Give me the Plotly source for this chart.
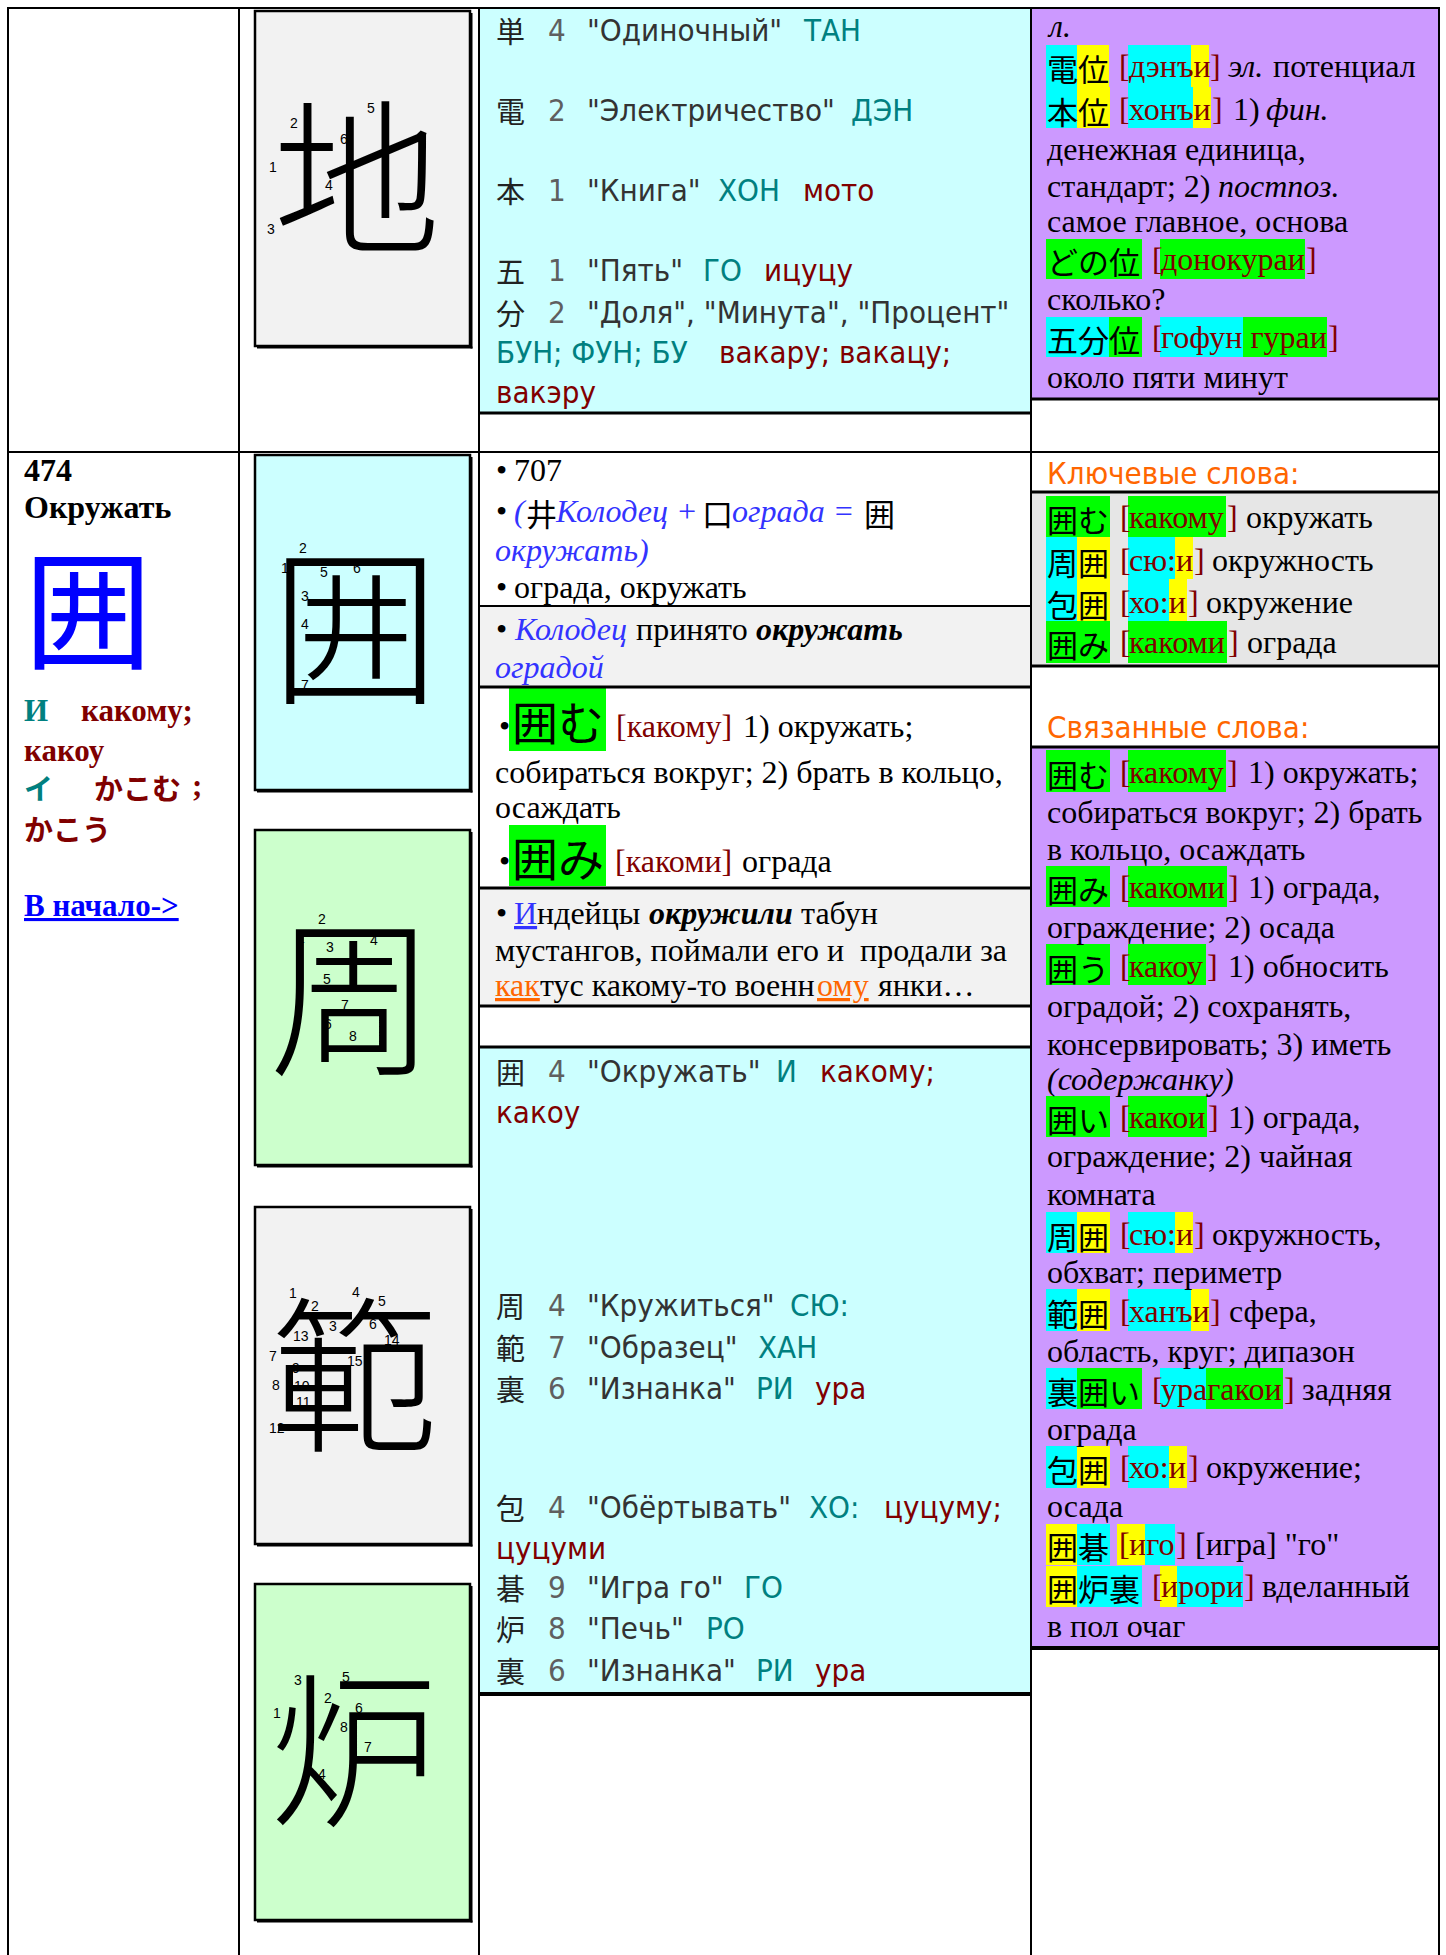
import plotly.graph_objects as go

W, H = 1446, 1955

# ======================= DATA (text content) =======================
ENTRY_NUMBER = "474"
ENTRY_MEANING = "Окружать"
ENTRY_KANJI = "囲"
ENTRY_READINGS = [
    [("on_b", "И"), ("kun_b", "какому;")],
    [("kun_b", "какоу")],
    [("jon_b", "イ"), ("jkun_b", "かこむ"), ("kun_b", ";")],
    [("jkun_b", "かこう")],
]
LINK_TEXT = "В начало->"

DIAGRAM_KANJI = ["地", "囲", "周", "範", "炉"]
DIAGRAM_STROKES = [6, 7, 8, 15, 8]

TOP_COMPONENTS = [
    [("k", "単"), ("num", "4"), ("q", '"Одиночный"'), ("on", "ТАН")],
    [("k", "電"), ("num", "2"), ("q", '"Электричество"'), ("on", "ДЭН")],
    [("k", "本"), ("num", "1"), ("q", '"Книга"'), ("on", "ХОН"), ("kun", "мото")],
    [("k", "五"), ("num", "1"), ("q", '"Пять"'), ("on", "ГО"), ("kun", "ицуцу")],
    [("k", "分"), ("num", "2"), ("q", '"Доля", "Минута", "Процент"')],
    [("on", "БУН; ФУН; БУ"), ("kun", "вакару; вакацу;")],
    [("kun", "вакэру")],
]

LOW_COMPONENTS = [
    [("k", "囲"), ("num", "4"), ("q", '"Окружать"'), ("on", "И"), ("kun", "какому;")],
    [("kun", "какоу")],
    [("k", "周"), ("num", "4"), ("q", '"Кружиться"'), ("on", "СЮ:")],
    [("k", "範"), ("num", "7"), ("q", '"Образец"'), ("on", "ХАН")],
    [("k", "裏"), ("num", "6"), ("q", '"Изнанка"'), ("on", "РИ"), ("kun", "ура")],
    [("k", "包"), ("num", "4"), ("q", '"Обёртывать"'), ("on", "ХО:"), ("kun", "цуцуму;")],
    [("kun", "цуцуми")],
    [("k", "碁"), ("num", "9"), ("q", '"Игра го"'), ("on", "ГО")],
    [("k", "炉"), ("num", "8"), ("q", '"Печь"'), ("on", "РО")],
    [("k", "裏"), ("num", "6"), ("q", '"Изнанка"'), ("on", "РИ"), ("kun", "ура")],
]

SEC_A = [
    [("s", "•"), ("s", "707")],
    [("s", "•"), ("blue_i", "("), ("jk", "井"), ("blue_i", "Колодец +"), ("jk", "口"),
     ("blue_i", "ограда ="), ("jk", "囲")],
    [("blue_i", "окружать)")],
    [("s", "•"), ("s", "ограда, окружать")],
]
SEC_B = [
    [("s", "•"), ("blue_i", "Колодец"), ("s", "принято"), ("sbi", "окружать")],
    [("blue_i", "оградой")],
]
SEC_C = [
    [("s", "•"), ("red", "[какому]"), ("s", "1) окружать;")],
    [("s", "собираться вокруг; 2) брать в кольцо,")],
    [("s", "осаждать")],
    [("s", "•"), ("red", "[какоми]"), ("s", "ограда")],
]
SEC_C_WORDS = ["囲む", "囲み"]
SEC_D = [
    [("s", "•"), ("blue_u", "И"), ("s", "ндейцы"), ("sbi", "окружили"), ("s", "табун")],
    [("s", "мустангов, поймали его и  продали за")],
    [("orange_u", "как"), ("s", "тус какому-то военн"), ("orange_u", "ому"), ("s", "янки…")],
]

TOP_WORDS = [
    [("si", "л.")],
    [("jk", "電位"), ("red", "["), ("red", "дэнъи"), ("red", "]"), ("si", "эл."), ("s", "потенциал")],
    [("jk", "本位"), ("red", "["), ("red", "хонъи"), ("red", "]"), ("s", "1)"), ("si", "фин.")],
    [("s", "денежная единица,")],
    [("s", "стандарт; 2)"), ("si", "постпоз.")],
    [("s", "самое главное, основа")],
    [("jk", "どの位"), ("red", "["), ("red", "донокураи"), ("red", "]")],
    [("s", "сколько?")],
    [("jk", "五分位"), ("red", "["), ("red", "гофун гураи"), ("red", "]")],
    [("s", "около пяти минут")],
]

HEAD_KEY = "Ключевые слова:"
HEAD_REL = "Связанные слова:"

KEY_WORDS = [
    [("jk", "囲む"), ("red", "["), ("red", "какому"), ("red", "]"), ("s", "окружать")],
    [("jk", "周囲"), ("red", "["), ("red", "сю:и"), ("red", "]"), ("s", "окружность")],
    [("jk", "包囲"), ("red", "["), ("red", "хо:и"), ("red", "]"), ("s", "окружение")],
    [("jk", "囲み"), ("red", "["), ("red", "какоми"), ("red", "]"), ("s", "ограда")],
]

REL_WORDS = [
    [("jk", "囲む"), ("red", "["), ("red", "какому"), ("red", "]"), ("s", "1) окружать;")],
    [("s", "собираться вокруг; 2) брать")],
    [("s", "в кольцо, осаждать")],
    [("jk", "囲み"), ("red", "["), ("red", "какоми"), ("red", "]"), ("s", "1) ограда,")],
    [("s", "ограждение; 2) осада")],
    [("jk", "囲う"), ("red", "["), ("red", "какоу"), ("red", "]"), ("s", "1) обносить")],
    [("s", "оградой; 2) сохранять,")],
    [("s", "консервировать; 3) иметь")],
    [("si", "(содержанку)")],
    [("jk", "囲い"), ("red", "["), ("red", "какои"), ("red", "]"), ("s", "1) ограда,")],
    [("s", "ограждение; 2) чайная")],
    [("s", "комната")],
    [("jk", "周囲"), ("red", "["), ("red", "сю:и"), ("red", "]"), ("s", "окружность,")],
    [("s", "обхват; периметр")],
    [("jk", "範囲"), ("red", "["), ("red", "ханъи"), ("red", "]"), ("s", "сфера,")],
    [("s", "область, круг; дипазон")],
    [("jk", "裏囲い"), ("red", "["), ("red", "урагакои"), ("red", "]"), ("s", "задняя")],
    [("s", "ограда")],
    [("jk", "包囲"), ("red", "["), ("red", "хо:и"), ("red", "]"), ("s", "окружение;")],
    [("s", "осада")],
    [("jk", "囲碁"), ("red", "["), ("red", "иго"), ("red", "]"), ("s", '[игра] "го"')],
    [("jk", "囲炉裏"), ("red", "["), ("red", "ирори"), ("red", "]"), ("s", "вделанный")],
    [("s", "в пол очаг")],
]

# ======================= LAYOUT (positions, sizes, styles) =======================
SERIF = "Liberation Serif, Times New Roman, serif"
SANS = "DejaVu Sans Condensed, Tahoma, DejaVu Sans, sans-serif"
CJK = "Noto Sans CJK JP, Noto Sans CJK SC, sans-serif"
ARIAL = "Liberation Sans, Arial, sans-serif"
SS, TS, JS = 32, 31, 31

ROLES = {
    "k": dict(family=CJK, size=29, color="#222222"),
    "num": dict(family=SANS, size=TS, color="#5f5f5f"),
    "q": dict(family=SANS, size=TS, color="#333333"),
    "on": dict(family=SANS, size=TS, color="#008080"),
    "kun": dict(family=SANS, size=TS, color="#800000"),
    "head": dict(family=SANS, size=TS, color="#ff6600"),
    "s": dict(family=SERIF, size=SS, color="#000000"),
    "si": dict(family=SERIF, size=SS, color="#000000", style="italic"),
    "sb": dict(family=SERIF, size=SS, color="#000000", weight="bold"),
    "sbi": dict(family=SERIF, size=SS, color="#000000", weight="bold", style="italic"),
    "blue_i": dict(family=SERIF, size=SS, color="#3333ff", style="italic"),
    "blue_u": dict(family=SERIF, size=SS, color="#3333ff", lineposition="under"),
    "orange_u": dict(family=SERIF, size=SS, color="#ff6600", lineposition="under"),
    "red": dict(family=SERIF, size=SS, color="#800000"),
    "on_b": dict(family=SERIF, size=31, color="#008080", weight="bold"),
    "kun_b": dict(family=SERIF, size=31, color="#800000", weight="bold"),
    "jon_b": dict(family=CJK, size=29, color="#008080", weight="bold"),
    "jkun_b": dict(family=CJK, size=29, color="#800000", weight="bold"),
    "link": dict(family=SERIF, size=31, color="#0000ff", weight="bold", lineposition="under"),
    "jk": dict(family=CJK, size=JS, color="#000000"),
    "jkbig": dict(family=CJK, size=46, color="#000000"),
    "bigblue": dict(family=CJK, size=128, color="#0000ff"),
    "diag": dict(family=CJK, size=168, color="#000000", weight=300),
    "snum": dict(family=ARIAL, size=14, color="#000000"),
}

annotations = []
shapes = []


def dy_for(font):
    if font["family"] == CJK and font["size"] > 60:
        return -0.056 * font["size"]
    if font["family"] == SERIF:
        return -1.5
    return 0.0


def add_text(x, y, text, role, xanchor="left"):
    font = dict(ROLES[role])
    annotations.append(dict(
        x=x, y=y + dy_for(font), xref="x", yref="y", text=text, showarrow=False,
        xanchor=xanchor, yanchor="middle", font=font, borderpad=0))


def add_lines(lines, xs, ys):
    for segs, xrow, y in zip(lines, xs, ys):
        for (role, txt), x in zip(segs, xrow):
            add_text(x, y, txt, role)


def rect(x0, y0, x1, y1, fill, lw=0, lc="#000000"):
    shapes.append(dict(type="rect", xref="x", yref="y", x0=x0, y0=y0, x1=x1, y1=y1,
                       fillcolor=fill, line=dict(width=lw, color=lc), layer="above"))


def hline(y, x0, x1, w=2):
    shapes.append(dict(type="line", xref="x", yref="y", x0=x0, x1=x1, y0=y, y1=y,
                       line=dict(color="#000000", width=w), layer="above"))


def vline(x, y0, y1, w=2):
    shapes.append(dict(type="line", xref="x", yref="y", x0=x, x1=x, y0=y0, y1=y1,
                       line=dict(color="#000000", width=w), layer="above"))


CYAN_BG, PURPLE_BG, GRAY1, GRAY2, GREEN_BG = "#ccffff", "#cc99ff", "#f2f2f2", "#e6e6e6", "#ccffcc"
HC, HY, HG = "#00ffff", "#ffff00", "#00ff00"

# ---- background areas
rect(480, 8, 1031, 412, CYAN_BG)
rect(1031, 8, 1439, 398, PURPLE_BG)
rect(480, 606, 1031, 687, GRAY1)
rect(480, 888, 1031, 1006, GRAY1)
rect(480, 1047, 1031, 1693, CYAN_BG)
rect(1031, 492, 1439, 666, GRAY2)
rect(1031, 747, 1439, 1647, PURPLE_BG)

# ---- highlight boxes (x0, y0, x1, y1, colour)
HIGHLIGHTS = [
    (509, 688, 606, 751, HG), (509, 825, 606, 886, HG),
    (1046, 45, 1077, 87, HC), (1077, 45, 1109, 87, HY), (1128, 45, 1191, 87, HC), (1191, 45, 1209, 87, HY),
    (1046, 87, 1077, 128, HC), (1077, 87, 1110, 128, HY), (1128, 87, 1193, 128, HC), (1193, 87, 1211, 128, HY),
    (1046, 239, 1142, 279, HG), (1160, 239, 1305, 279, HG),
    (1046, 317, 1109, 357, HC), (1109, 317, 1142, 357, HG), (1160, 317, 1243, 357, HC), (1243, 317, 1327, 357, HG),
    (1046, 496, 1110, 537, HG), (1128, 496, 1226, 537, HG),
    (1046, 537, 1077, 621, HC), (1077, 537, 1110, 621, HY), (1128, 537, 1175, 579, HC), (1175, 537, 1193, 579, HY),
    (1128, 579, 1169, 621, HC), (1169, 579, 1187, 621, HY),
    (1046, 621, 1110, 663, HG), (1128, 621, 1227, 663, HG),
    (1046, 750, 1110, 792, HG), (1128, 750, 1226, 792, HG),
    (1046, 866, 1110, 907, HG), (1128, 866, 1227, 907, HG),
    (1046, 944, 1110, 985, HG), (1128, 944, 1206, 985, HG),
    (1046, 1096, 1110, 1137, HG), (1128, 1096, 1207, 1137, HG),
    (1046, 1212, 1077, 1253, HC), (1077, 1212, 1110, 1253, HY), (1128, 1212, 1175, 1253, HC), (1175, 1212, 1193, 1253, HY),
    (1046, 1289, 1077, 1331, HC), (1077, 1289, 1110, 1331, HY), (1128, 1289, 1191, 1331, HC), (1191, 1289, 1209, 1331, HY),
    (1046, 1368, 1077, 1409, HC), (1077, 1368, 1142, 1409, HG), (1160, 1368, 1206, 1409, HC), (1206, 1368, 1283, 1409, HG),
    (1046, 1446, 1077, 1488, HC), (1077, 1446, 1110, 1488, HY), (1128, 1446, 1169, 1488, HC), (1169, 1446, 1187, 1488, HY),
    (1046, 1524, 1077, 1565, HY), (1077, 1524, 1110, 1565, HC), (1117, 1524, 1145, 1565, HY), (1145, 1524, 1175, 1565, HC),
    (1046, 1566, 1077, 1607, HY), (1077, 1566, 1142, 1607, HC), (1160, 1566, 1177, 1607, HY), (1177, 1566, 1243, 1607, HC),
]
for x0, y0, x1, y1, c in HIGHLIGHTS:
    rect(x0, y0, x1, y1, c)

# ---- stroke-order diagram boxes
DIAG_BOXES = [(255, 11, 470, 346), (255, 455, 470, 790), (255, 830, 470, 1165),
              (255, 1207, 470, 1544), (255, 1584, 470, 1920)]
DIAG_FILLS = [GRAY1, CYAN_BG, GREEN_BG, GRAY1, GREEN_BG]
DIAG_CENTERS = [(357, 178), (355, 627), (353, 998), (354, 1375), (354, 1750)]
DIAG_NUM_POS = [
    [(273, 167), (294, 123), (271, 229), (329, 185), (371, 108), (344, 139)],
    [(285, 568), (303, 548), (305, 596), (305, 624), (324, 572), (357, 568), (305, 685)],
    [(301, 938), (322, 919), (330, 947), (374, 940), (327, 979), (328, 1024), (345, 1005), (353, 1036)],
    [(293, 1293), (315, 1306), (333, 1326), (356, 1292), (382, 1301), (373, 1324), (273, 1356),
     (276, 1385), (296, 1368), (302, 1386), (303, 1402), (277, 1428), (301, 1336), (392, 1340), (355, 1361)],
    [(277, 1713), (328, 1698), (298, 1680), (322, 1774), (346, 1677), (359, 1708), (368, 1747), (344, 1727)],
]
for (x0, y0, x1, y1), fill in zip(DIAG_BOXES, DIAG_FILLS):
    rect(x0, y0, x1, y1, fill, lw=2.5)
    vline(x1 + 1.5, y0 + 2, y1 + 2.5, w=2)
    hline(y1 + 1.5, x0 + 2, x1 + 2.5, w=2)

for k, n, (cx, cy), pos in zip(DIAGRAM_KANJI, DIAGRAM_STROKES, DIAG_CENTERS, DIAG_NUM_POS):
    add_text(cx, cy, k, "diag", xanchor="center")
    for i in range(n):
        px, py = pos[i]
        add_text(px, py, str(i + 1), "snum", xanchor="center")

# ---- table grid
for x in (8, 239, 479, 1031, 1439):
    vline(x, 7, H, w=2)
hline(8, 7, 1440, w=2)
hline(452, 7, 1440, w=2)
hline(413, 479, 1031, w=3)
hline(399, 1031, 1439, w=3)
hline(606, 479, 1031, w=2)
hline(687, 479, 1031, w=3)
hline(888, 479, 1031, w=3)
hline(1006, 479, 1031, w=3)
hline(1047, 479, 1031, w=3)
hline(1694, 479, 1031, w=4)
hline(492, 1031, 1439, w=3)
hline(666, 1031, 1439, w=3)
hline(747, 1031, 1439, w=3)
hline(1648, 1031, 1439, w=4)

# ---- column 1 : entry header
add_text(23, 471, "<b>%s</b>" % ENTRY_NUMBER, "s")
add_text(23, 508, "<b>%s</b>" % ENTRY_MEANING, "s")
add_text(88, 611, ENTRY_KANJI, "bigblue", xanchor="center")
add_lines(ENTRY_READINGS, [[23, 80], [23], [23, 93, 191], [23]], [712, 752, 787, 828])
add_text(23, 907, LINK_TEXT, "link")

# ---- column 3 : component tables
add_lines(TOP_COMPONENTS,
          [[495, 547, 586, 802], [495, 547, 586, 850], [495, 547, 586, 717, 802],
           [495, 547, 586, 702, 763], [495, 547, 586], [495, 718], [495]],
          [30, 110, 190, 270, 312, 352, 392])
add_lines(LOW_COMPONENTS,
          [[495, 547, 586, 775, 819], [495], [495, 547, 586, 789], [495, 547, 586, 757],
           [495, 547, 586, 755, 814], [495, 547, 586, 808, 883], [495], [495, 547, 586, 743],
           [495, 547, 586, 705], [495, 547, 586, 755, 814]],
          [1071, 1112, 1305, 1347, 1388, 1507, 1548, 1587, 1628, 1670])

add_lines(SEC_A, [[495, 513], [495, 513, 525, 554, 701, 731, 863], [494], [495, 513]],
          [471, 512, 551, 588])
add_lines(SEC_B, [[495, 513, 635, 755], [494]], [630, 668])
add_lines(SEC_C, [[498, 615, 742], [494], [494], [498, 614, 741]], [727, 773, 808, 862])
for w, y in zip(SEC_C_WORDS, [720, 856]):
    add_text(511, y, w, "jkbig")
add_lines(SEC_D, [[495, 513, 536, 648, 800], [494], [494, 539, 816, 877]], [914, 951, 986])

# ---- column 4 : words
add_lines(TOP_WORDS,
          [[1046], [1046, 1118, 1128, 1209, 1227, 1272], [1046, 1118, 1128, 1211, 1232, 1265],
           [1046], [1046, 1217], [1046], [1046, 1151, 1160, 1305], [1046],
           [1046, 1151, 1160, 1327], [1046]],
          [27, 67, 110, 150, 187, 222, 260, 300, 338, 378])
add_text(1046, 473, HEAD_KEY, "head")
add_text(1046, 727, HEAD_REL, "head")
add_lines(KEY_WORDS,
          [[1046, 1119, 1128, 1226, 1245], [1046, 1119, 1128, 1193, 1211],
           [1046, 1119, 1128, 1187, 1205], [1046, 1119, 1128, 1227, 1246]],
          [518, 561, 603, 643])
REL_X = [[1046, 1119, 1128, 1226, 1247], [1046], [1046], [1046, 1119, 1128, 1227, 1247], [1046],
         [1046, 1119, 1128, 1206, 1227], [1046], [1046], [1046], [1046, 1119, 1128, 1207, 1227],
         [1046], [1046], [1046, 1119, 1128, 1193, 1211], [1046], [1046, 1119, 1128, 1209, 1228],
         [1046], [1046, 1151, 1160, 1283, 1301], [1046], [1046, 1119, 1128, 1187, 1205], [1046],
         [1046, 1118, 1128, 1175, 1194], [1046, 1151, 1160, 1243, 1261], [1046]]
REL_Y = [773, 813, 850, 888, 928, 967, 1007, 1045, 1080, 1118, 1157, 1195, 1235, 1273, 1312,
         1352, 1390, 1430, 1468, 1507, 1545, 1587, 1627]
add_lines(REL_WORDS, REL_X, REL_Y)

fig = go.Figure(go.Scatter(x=[0, W], y=[0, H], mode="markers", marker=dict(opacity=0),
                           hoverinfo="skip", showlegend=False))
fig.update_layout(
    width=W, height=H, autosize=False,
    margin=dict(l=0, r=0, t=0, b=0, pad=0),
    paper_bgcolor="#ffffff", plot_bgcolor="#ffffff",
    xaxis=dict(range=[0, W], visible=False, fixedrange=True),
    yaxis=dict(range=[H, 0], visible=False, fixedrange=True),
    shapes=shapes, annotations=annotations, showlegend=False,
)
fig.write_html("out.html", config={"displayModeBar": False},
               post_script="document.body.style.margin='0';document.body.style.overflow='hidden';")
